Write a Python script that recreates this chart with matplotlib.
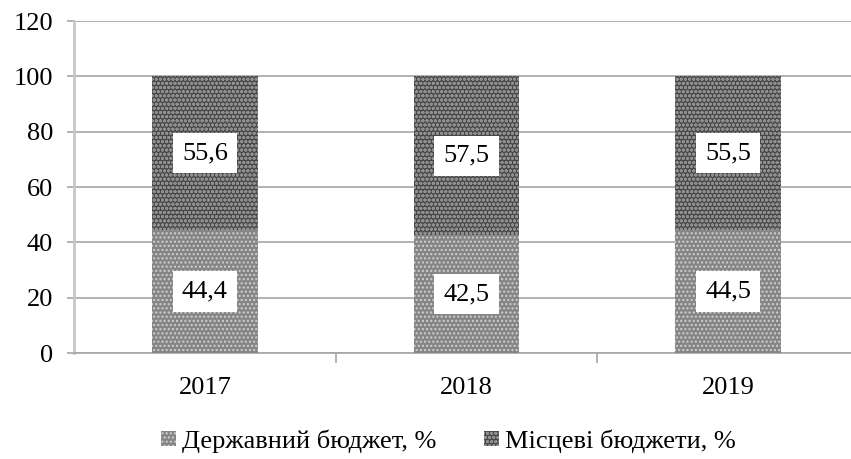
import matplotlib.pyplot as plt
import numpy as np

years = ["2017", "2018", "2019"]
state_budget = [44.4, 42.5, 44.5]
local_budgets = [55.6, 57.5, 55.5]
state_labels = ["44,4", "42,5", "44,5"]
local_labels = ["55,6", "57,5", "55,5"]
legend_names = ["Державний бюджет, %", "Місцеві бюджети, %"]

plt.rcParams["font.family"] = ["Liberation Serif", "DejaVu Serif"]
plt.rcParams["hatch.linewidth"] = 1.0

fig = plt.figure(figsize=(8.51, 4.59), dpi=100)
ax = fig.add_axes([74 / 851, 1 - 353 / 459, 785 / 851, 332 / 459])

x = np.arange(len(years))
width = 0.405
b1 = ax.bar(x, state_budget, width, color="#858585", edgecolor="#d0d0d0",
            linewidth=0, hatch="....", label=legend_names[0], zorder=3)
b2 = ax.bar(x, local_budgets, width, bottom=state_budget, color="#474747",
            edgecolor="#8f8f8f", linewidth=0, hatch="oooo", label=legend_names[1], zorder=3)

box = dict(boxstyle="square,pad=0.35", facecolor="white", edgecolor="none")
for i in range(len(years)):
    ax.text(x[i], state_budget[i] / 2, state_labels[i], ha="center", va="center",
            fontsize=19, bbox=box, zorder=4)
    ax.text(x[i], state_budget[i] + local_budgets[i] / 2, local_labels[i], ha="center",
            va="center", fontsize=19, bbox=box, zorder=4)

ax.set_xlim(-0.5, 2.5)
ax.set_ylim(0, 120)
ax.set_yticks(range(0, 121, 20))
ax.yaxis.grid(True, color="#a6a6a6", linewidth=1.2, zorder=0)
ax.set_xticks(x)
ax.set_xticklabels(years)
ax.set_xticks([0.5, 1.5], minor=True)
ax.tick_params(axis="x", which="major", length=0, pad=17, labelsize=19)
ax.tick_params(axis="x", which="minor", length=7, width=1.2, color="#a6a6a6")
ax.tick_params(axis="y", length=5, width=1.2, color="#a6a6a6", pad=10, labelsize=19)

for side in ["top", "right"]:
    ax.spines[side].set_visible(False)
ax.spines["left"].set_color("#c8c8c8")
ax.spines["left"].set_linewidth(2)
ax.spines["bottom"].set_color("#a6a6a6")
ax.spines["bottom"].set_linewidth(1.2)

fig.legend(handles=[b1, b2], loc="center", bbox_to_anchor=(448 / 851, 1 - 441 / 459),
           ncol=2, frameon=False, fontsize=19, handlelength=0.6, handleheight=0.5,
           handletextpad=0.2, columnspacing=1.8)

fig.savefig("out.png", dpi=100)
